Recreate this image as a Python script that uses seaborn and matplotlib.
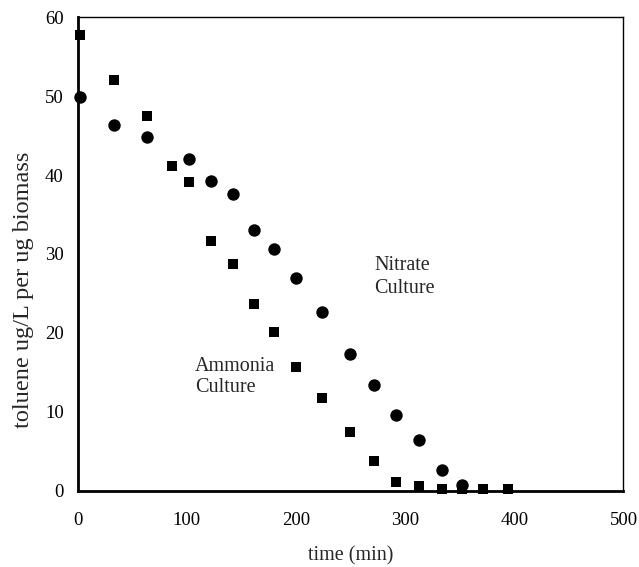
import matplotlib
matplotlib.use("Agg")
import matplotlib.pyplot as plt
import seaborn as sns
import pandas as pd

nitrate_time = [2, 33.5, 63.5, 102, 122, 142.5, 161.5, 180, 200, 223.5, 249.5, 271.4, 291.3, 312.7, 333.4, 351.8]
nitrate_toluene = [49.9, 46.3, 44.8, 42.0, 39.3, 37.6, 33.0, 30.6, 27.0, 22.7, 17.3, 13.4, 9.6, 6.4, 2.6, 0.7]

ammonia_time = [2, 33.5, 63.5, 86.5, 102, 122, 142.5, 161.5, 180, 200, 223.5, 249.5, 271.4, 291.3, 312.7, 333.4, 351.8, 371, 394.2]
ammonia_toluene = [57.7, 52.0, 47.5, 41.2, 39.1, 31.7, 28.7, 23.7, 20.1, 15.7, 11.7, 7.4, 3.8, 1.1, 0.6, 0.2, 0.2, 0.2, 0.2]

x_ticks = [0, 100, 200, 300, 400, 500]
y_ticks = [0, 10, 20, 30, 40, 50, 60]

df = pd.concat([
    pd.DataFrame({"time": nitrate_time, "toluene": nitrate_toluene, "culture": "Nitrate"}),
    pd.DataFrame({"time": ammonia_time, "toluene": ammonia_toluene, "culture": "Ammonia"}),
], ignore_index=True)

sns.set_style("white")
plt.rcParams['font.family'] = ['Liberation Serif', 'DejaVu Serif']

fig = plt.figure(figsize=(6.39, 5.67), dpi=100)
ax = fig.add_axes([0.1216, 0.1346, 0.8541, 0.8349])

sns.scatterplot(data=df[df.culture == "Nitrate"], x="time", y="toluene", ax=ax,
                color="black", marker="o", s=80, edgecolor="black", linewidth=0,
                legend=False, clip_on=False, zorder=3)
sns.scatterplot(data=df[df.culture == "Ammonia"], x="time", y="toluene", ax=ax,
                color="black", marker="s", s=62, edgecolor="black", linewidth=0,
                legend=False, clip_on=False, zorder=3)

ax.set_xlim(0, 500)
ax.set_ylim(0, 60)
ax.set_xticks(x_ticks)
ax.set_yticks(y_ticks)
ax.tick_params(axis="both", length=0, labelsize=13.5, colors="black")
ax.tick_params(axis="x", pad=15)
ax.tick_params(axis="y", pad=10)

for side in ["left", "bottom"]:
    ax.spines[side].set_linewidth(2.0)
    ax.spines[side].set_color("black")
for side in ["top", "right"]:
    ax.spines[side].set_linewidth(1.0)
    ax.spines[side].set_color("black")

ax.set_xlabel("time (min)", fontsize=14.5)
ax.set_ylabel("toluene ug/L per ug biomass", fontsize=17.5)
ax.xaxis.set_label_coords(0.5, -0.138)
ax.xaxis.label.set_va("center")
ax.yaxis.set_label_coords(-0.100, 0.424)
ax.yaxis.label.set_va("center")

ax.text(272, 27.1, "Nitrate\nCulture", fontsize=14.5, ha="left", va="center", linespacing=1.3)
ax.text(107.5, 14.4, "Ammonia\nCulture", fontsize=14.5, ha="left", va="center", linespacing=1.2)

fig.savefig("out.png", dpi=100, facecolor="white")
